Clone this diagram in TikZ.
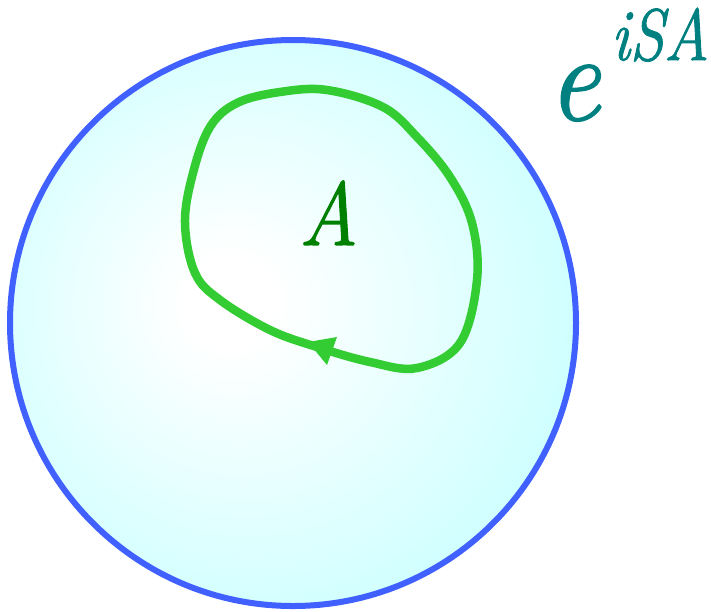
\documentclass[tikz,border=0pt]{standalone}
\usepackage{graphicx}
\usepackage{fontspec}
\newfontfamily\lmheavy{Latin Modern Roman}[FakeBold=1.4]
\definecolor{edgecyan}{RGB}{198,255,255}
\definecolor{ringblue}{RGB}{64,96,255}
\definecolor{loopgreen}{RGB}{51,204,51}
\definecolor{labelgreen}{RGB}{0,128,0}
\definecolor{expteal}{RGB}{0,128,128}
\pgfdeclareradialshading{ballshade}{\pgfpoint{-6bp}{2bp}}{color(0bp)=(white); color(4bp)=(white); color(33bp)=(edgecyan); color(60bp)=(edgecyan)}
\tikzset{
  ballfill/.style={shading=ballshade},
  ringline/.style={draw=ringblue, line width=6pt},
  loopline/.style={draw=loopgreen, line width=8.5pt},
  looptip/.style={fill=loopgreen},
  biglabel/.style={inner sep=0pt, anchor=base west}
}
\begin{document}
\begin{tikzpicture}[x=1pt,y=-1pt]
\useasboundingbox (0,0) rectangle (711,611);
\shade[ballfill] (293,323) circle[radius=283];
\draw[ringline] (293,323) circle[radius=283];
\draw[loopline] plot[smooth cycle, tension=0.6] coordinates {
 (417,368) (460,343) (477,280) (472,223) (450,177) (417,137) (383,107)
 (327,90) (280,92) (237,103) (210,127) (193,173) (185,223) (195,273)
 (220,300) (270,330) (317,347) (370,362)};
\fill[looptip] (308,342) -- (337,337) -- (327,365) -- cycle;
\node[biglabel, text=labelgreen, font=\lmheavy\itshape\fontsize{90}{90}\selectfont] (A) at (299,245) {\scalebox{0.9}[1]{A}};
\node[biglabel, text=expteal, font=\lmheavy\itshape\fontsize{125}{125}\selectfont] (e) at (548,120) {\scalebox{0.92}[1]{e}};
\node[biglabel, text=expteal, font=\lmheavy\itshape\fontsize{73}{73}\selectfont] (isa) at (611,60) {\scalebox{0.85}[1]{iSA}};
\end{tikzpicture}
\end{document}
